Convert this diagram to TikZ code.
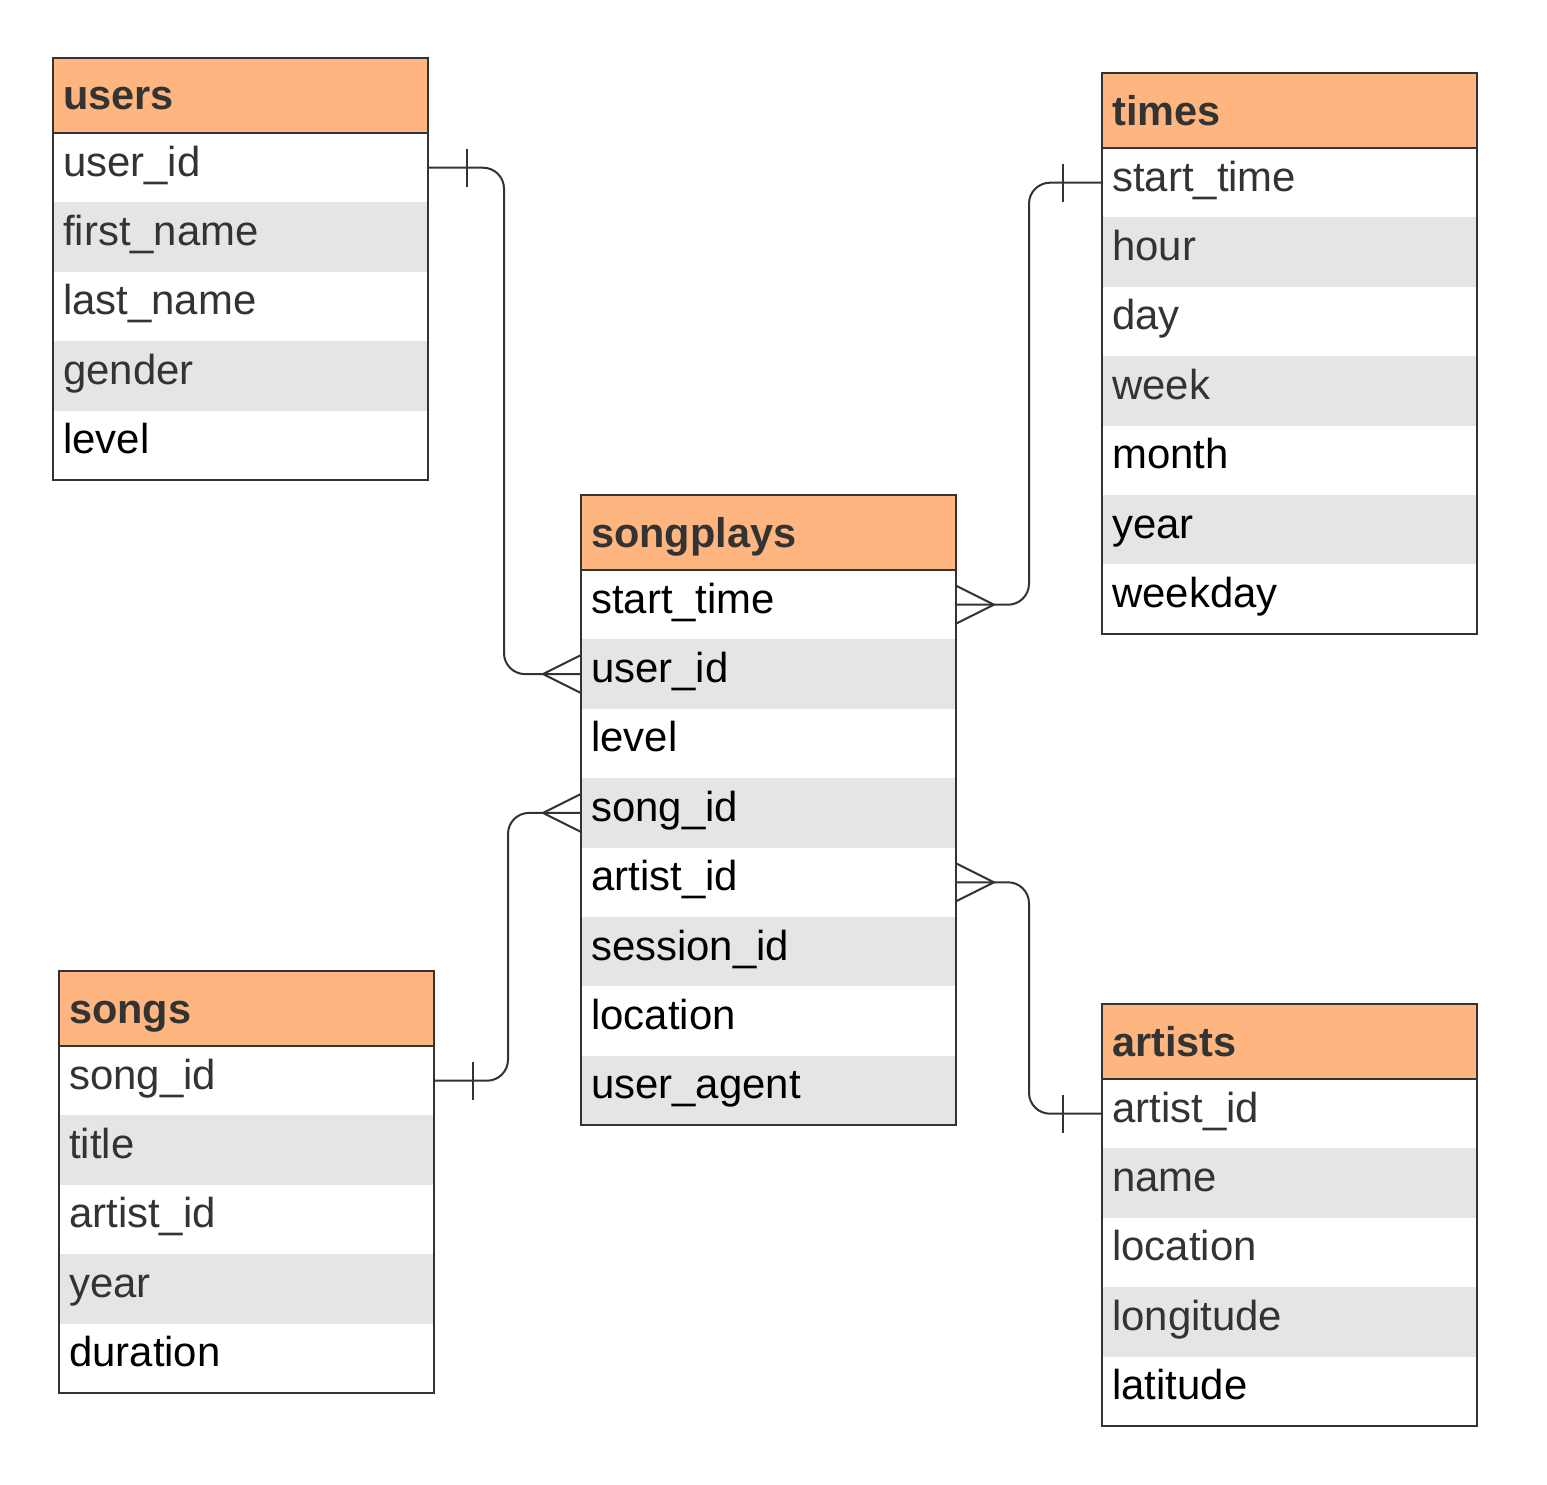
\documentclass[tikz,border=0pt]{standalone}
\usepackage{fontspec}
\setmainfont{Liberation Sans}
\usetikzlibrary{calc}
\definecolor{hdrc}{HTML}{FFB580}
\definecolor{rowgray}{HTML}{E5E5E5}
\definecolor{bordc}{HTML}{333333}
\definecolor{txtgray}{HTML}{333333}
\tikzset{
  hdr/.style={fill=hdrc, draw=none, minimum width=375pt, minimum height=75pt, inner sep=0pt, outer sep=0pt, anchor=north west},
  rowbox/.style={minimum width=375pt, minimum height=69.4pt, inner sep=0pt, outer sep=0pt, anchor=north west, draw=none},
  whitebox/.style={rowbox, fill=white},
  graybox/.style={rowbox, fill=rowgray},
  txt/.style={anchor=base west, inner sep=0pt, font=\fontsize{41.9}{48}\selectfont},
  htxt/.style={anchor=base west, inner sep=0pt, text=txtgray, font=\fontsize{41.5}{48}\selectfont\bfseries},
  frame/.style={draw=bordc, line width=2pt},
  rel/.style={draw=bordc, line width=2pt, rounded corners=21pt},
  tick/.style={draw=bordc, line width=2pt},
}
% #1 name, #2 x, #3 y, #4 number of rows, #5 rows as text/colour
\newcommand\ertable[5]{%
  \node[hdr] (#1) at (#2,#3) {};
  \node[htxt] (#1-title) at ({#2+10},{#3+52}) {#1};
  \foreach [count=\i] \t/\c in {#5} {
    \pgfmathsetmacro\ry{#3+75+(\i-1)*69.4}
    \ifodd\i
      \node[whitebox] (#1-r\i) at (#2,\ry) {};
    \else
      \node[graybox] (#1-r\i) at (#2,\ry) {};
    \fi
    \node[txt, text=\c] (#1-t\i) at ({#2+10},{\ry+43}) {\t};
  }
  \draw[frame] (#1.north west) rectangle (#1-r#4.south east);
  \draw[frame] (#1.south west) -- (#1.south east);
}
\begin{document}
\begin{tikzpicture}[x=1pt, y=-1pt]
\useasboundingbox (0,0) rectangle (1547,1485);
\fill[white] (0,0) rectangle (1547,1485);

\ertable{users}{53}{58}{5}{user\_id/txtgray, first\_name/txtgray, last\_name/txtgray, gender/txtgray, level/black}
\ertable{times}{1102}{73}{7}{start\_time/txtgray, hour/txtgray, day/txtgray, week/txtgray, month/black, year/black, weekday/black}
\ertable{songplays}{581}{495}{8}{start\_time/black, user\_id/black, level/black, song\_id/black, artist\_id/black, session\_id/black, location/black, user\_agent/black}
\ertable{songs}{59}{971}{5}{song\_id/txtgray, title/txtgray, artist\_id/txtgray, year/txtgray, duration/black}
\ertable{artists}{1102}{1004}{5}{artist\_id/txtgray, name/txtgray, location/txtgray, longitude/txtgray, latitude/black}

% jog coordinates
\coordinate (jogU) at (504,420);
\coordinate (jogT) at (1029,400);
\coordinate (jogS) at (508,950);
\coordinate (jogA) at (1029,1000);

% users.user_id -> songplays.user_id
\draw[rel] (users-r1.east) -| (jogU) |- (songplays-r2.west);
\draw[tick] ($(users-r1.east)+(39,-19)$) -- ($(users-r1.east)+(39,19)$);
\draw[tick] ($(songplays-r2.west)+(0,-19)$) -- ($(songplays-r2.west)+(-38,0)$) -- ($(songplays-r2.west)+(0,19)$);

% times.start_time -> songplays.start_time
\draw[rel] (times-r1.west) -| (jogT) |- (songplays-r1.east);
\draw[tick] ($(times-r1.west)+(-39,-19)$) -- ($(times-r1.west)+(-39,19)$);
\draw[tick] ($(songplays-r1.east)+(0,-19)$) -- ($(songplays-r1.east)+(38,0)$) -- ($(songplays-r1.east)+(0,19)$);

% songs.song_id -> songplays.song_id
\draw[rel] (songs-r1.east) -| (jogS) |- (songplays-r4.west);
\draw[tick] ($(songs-r1.east)+(39,-19)$) -- ($(songs-r1.east)+(39,19)$);
\draw[tick] ($(songplays-r4.west)+(0,-19)$) -- ($(songplays-r4.west)+(-38,0)$) -- ($(songplays-r4.west)+(0,19)$);

% artists.artist_id -> songplays.artist_id
\draw[rel] (artists-r1.west) -| (jogA) |- (songplays-r5.east);
\draw[tick] ($(artists-r1.west)+(-39,-19)$) -- ($(artists-r1.west)+(-39,19)$);
\draw[tick] ($(songplays-r5.east)+(0,-19)$) -- ($(songplays-r5.east)+(38,0)$) -- ($(songplays-r5.east)+(0,19)$);
\end{tikzpicture}
\end{document}
